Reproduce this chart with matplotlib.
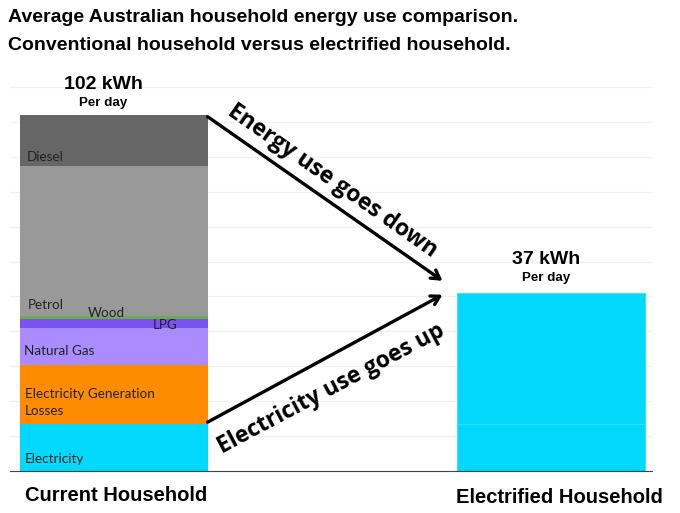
import matplotlib
matplotlib.use('Agg')
import matplotlib.pyplot as plt

# kWh per day
households = ['Current Household', 'Electrified Household']
current_sources = ['Electricity', 'Electricity Generation\nLosses', 'Natural Gas', 'LPG', 'Wood', 'Petrol', 'Diesel']
current_values = [13.5, 17.0, 10.5, 2.5, 1.0, 43.0, 14.5]
electrified_values = [13.5, 37.5]   # drawn heights of the right bar
totals_text = ['102 kWh', '37 kWh']
title_lines = ['Average Australian household energy use comparison.',
               'Conventional household versus electrified household.']

colors = ['#00d9fb', '#ff8c00', '#ab8cff', '#7a52f4', '#6aad4a', '#999999', '#666666']

fig = plt.figure(figsize=(6.8, 5.13), dpi=100)
ax = fig.add_axes([0.0147, 0.0819, 0.9441, 0.762])

w = 0.43
bottom = 0
for name, val, col in zip(current_sources, current_values, colors):
    ax.bar(0, val, w, bottom=bottom, color=col, zorder=2)
    bottom += val
top_left = bottom

bottom = 0
for val in electrified_values:
    ax.bar(1, val, w, bottom=bottom, color=colors[0], edgecolor='#33e0fc', linewidth=0.6, zorder=2)
    bottom += val
top_right = bottom

ax.set_xlim(-0.237, 1.231)
ax.set_ylim(0, 112)
ax.set_yticks(range(10, 111, 10))
ax.grid(axis='y', color='#f0f0f0', linewidth=1, zorder=0)
ax.set_xticks([])
ax.tick_params(left=False, labelleft=False)
for s in ['top', 'right', 'left']:
    ax.spines[s].set_visible(False)
ax.spines['bottom'].set_color('#444444')

# segment labels
seg_font = dict(family=['Lato', 'DejaVu Sans'], fontsize=9.7, color='#222222', va='center', zorder=3)
x0 = -w / 2
cum = [sum(current_values[:i]) for i in range(len(current_values))]
ax.text(x0 + 0.012, 3.5, 'Electricity', **seg_font)
ax.text(x0 + 0.012, cum[1] + 6, 'Electricity Generation\nLosses', linespacing=1.5, **seg_font)
ax.text(x0 + 0.01, cum[2] + 3.9, 'Natural Gas', **seg_font)
ax.text(x0 + 0.304, cum[3] + 0.8, 'LPG', **seg_font)
ax.text(x0 + 0.157, cum[4] + 1.8, 'Wood', **seg_font)
ax.text(x0 + 0.018, cum[5] + 3.2, 'Petrol', **seg_font)
ax.text(x0 + 0.016, cum[6] + 2.5, 'Diesel', **seg_font)

# totals above bars
bold = dict(family=['Liberation Sans', 'DejaVu Sans'], fontweight='bold', ha='center', color='black')
ax.text(-0.024, top_left + 8.8, totals_text[0], fontsize=14, va='center', **bold)
ax.text(-0.024, top_left + 3.4, 'Per day', fontsize=9.6, va='center', **bold)
ax.text(0.99, top_right + 9.5, totals_text[1], fontsize=14, va='center', **bold)
ax.text(0.99, top_right + 4.3, 'Per day', fontsize=9.6, va='center', **bold)

# category labels
ax.text(0.006, -7.0, households[0], fontsize=14.5, va='center', **bold)
ax.text(1.02, -7.5, households[1], fontsize=14.5, va='center', **bold)

# arrows
arr = dict(arrowstyle='->,head_length=0.6,head_width=0.35', color='black', lw=2.4, shrinkA=0, shrinkB=0)
ax.annotate('', xy=(0.752, 54.5), xytext=(0.215, 101.5), arrowprops=arr, zorder=4)
ax.annotate('', xy=(0.752, 50.5), xytext=(0.215, 14), arrowprops=arr, zorder=4)
arrow_font = dict(family=['Open Sans', 'DejaVu Sans'], fontweight='bold', fontsize=16.5,
                  ha='center', va='center', color='black', rotation_mode='anchor')
ax.text(0.5, 83.0, 'Energy use goes down', rotation=-35, **arrow_font)
ax.text(0.497, 23.5, 'Electricity use goes up', rotation=28, **arrow_font)

# title
title_font = dict(fontsize=14, fontweight='bold', family=['Liberation Sans', 'DejaVu Sans'],
                  ha='left', va='center')
fig.text(0.012, 1 - 17 / 513, title_lines[0], **title_font)
fig.text(0.012, 1 - 45 / 513, title_lines[1], **title_font)

fig.savefig('out.png', dpi=100)
